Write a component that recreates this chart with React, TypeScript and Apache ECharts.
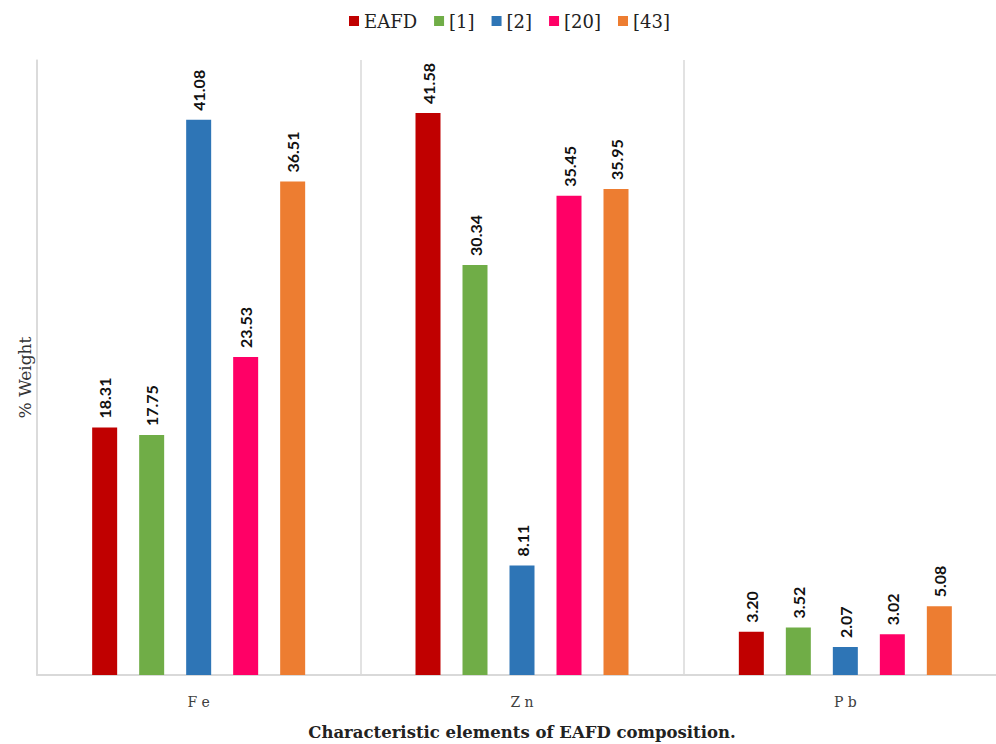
import React, { useEffect, useRef } from "react";
import * as echarts from "echarts";

const categories = ["Fe", "Zn", "Pb"];
const seriesNames = ["EAFD", "[1]", "[2]", "[20]", "[43]"];
const eafd = [18.31, 41.58, 3.2];
const ref1 = [17.75, 30.34, 3.52];
const ref2 = [41.08, 8.11, 2.07];
const ref20 = [23.53, 35.45, 3.02];
const ref43 = [36.51, 35.95, 5.08];
const colors = ["#C00000", "#70AD47", "#2E75B6", "#FF0066", "#ED7D31"];

export default function App() {
  const ref = useRef<HTMLDivElement>(null);
  useEffect(() => {
    if (!ref.current) return;
    const chart = echarts.init(ref.current, null, { renderer: "svg" });
    const values = [eafd, ref1, ref2, ref20, ref43];
    chart.setOption({
      animation: false,
      backgroundColor: "#ffffff",
      legend: {
        top: 7,
        left: 344,
        itemWidth: 10,
        itemHeight: 10,
        itemGap: 17,
        icon: "rect",
        textStyle: { fontFamily: "DejaVu Serif", fontSize: 18, color: "#222" },
        data: seriesNames,
      },
      grid: { left: 37, width: 970, top: 60, height: 615, outerBoundsMode: "none", containLabel: false },
      xAxis: {
        type: "category",
        data: categories,
        axisTick: { show: false },
        axisLine: { lineStyle: { color: "#d9d9d9", width: 2 } },
        splitLine: { show: true, lineStyle: { color: "#d9d9d9", width: 1.5 } },
        axisLabel: {
          fontFamily: "DejaVu Serif",
          fontSize: 14,
          color: "#404040",
          margin: 20,
          formatter: (v: string) => v.split("").join(" "),
        },
        name: "Characteristic elements of EAFD composition.",
        nameLocation: "middle",
        nameGap: 49,
        nameTextStyle: { fontFamily: "DejaVu Serif", fontSize: 16.5, fontWeight: "bold", color: "#222" },
      },
      yAxis: {
        type: "value",
        min: 0,
        max: 45.5,
        axisLabel: { show: false },
        axisTick: { show: false },
        splitLine: { show: false },
        axisLine: { show: true, lineStyle: { color: "#d9d9d9", width: 1.5 } },
        name: "% Weight",
        nameLocation: "middle",
        nameGap: 4,
        nameTextStyle: { fontFamily: "DejaVu Serif", fontSize: 17, color: "#333", padding: [0, 20, 0, 0] },
      },
      series: seriesNames.map((n, i) => ({
        name: n,
        type: "bar",
        data: values[i],
        barWidth: 25,
        barGap: "88%",
        itemStyle: { color: colors[i] },
        label: {
          show: true,
          position: "top",
          rotate: 90,
          align: "left",
          verticalAlign: "middle",
          distance: 9,
          fontFamily: "Lato",
          fontWeight: "bold",
          fontSize: 16,
          color: "#111",
          formatter: (p: any) => p.value.toFixed(2),
        },
      })),
    });
    return () => chart.dispose();
  }, []);
  return (
    <div
      ref={ref}
      style={{ position: "fixed", left: 0, top: 0, width: 996, height: 744 }}
    />
  );
}
